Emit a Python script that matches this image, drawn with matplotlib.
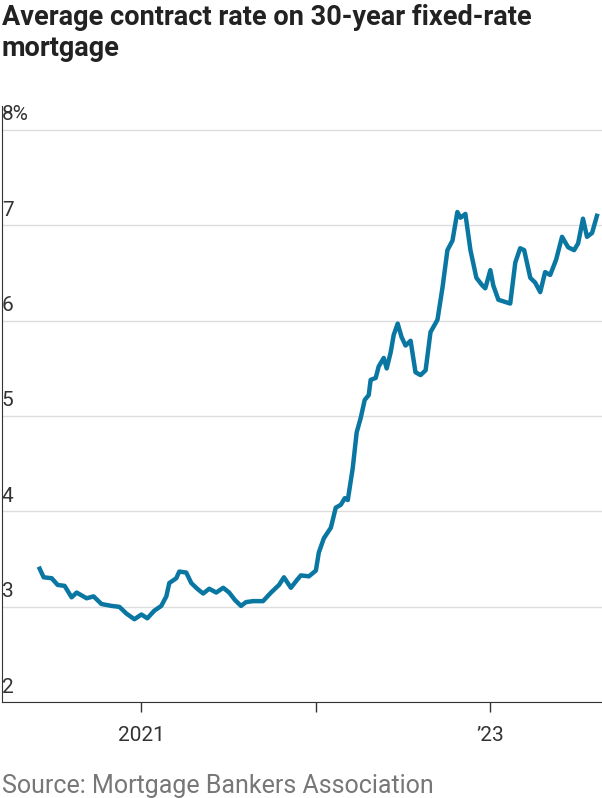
import matplotlib
matplotlib.use("Agg")
import matplotlib.pyplot as plt

years = [2020.417,2020.440,2020.486,2020.520,2020.560,2020.600,2020.629,2020.686,2020.726,2020.771,2020.829,2020.874,2020.914,2020.960,
 2021.000,2021.034,2021.074,2021.114,2021.143,2021.160,2021.200,2021.217,2021.257,2021.286,2021.320,2021.354,2021.389,2021.429,2021.469,
 2021.503,2021.537,2021.571,2021.600,2021.640,2021.697,2021.743,2021.789,2021.817,2021.857,2021.891,2021.914,2021.960,
 2022.000,2022.017,2022.046,2022.086,2022.114,2022.143,2022.166,2022.183,2022.211,2022.234,2022.257,2022.280,2022.303,2022.314,
 2022.343,2022.360,2022.389,2022.406,2022.429,2022.446,2022.469,2022.491,2022.514,2022.543,2022.571,2022.600,2022.629,2022.657,
 2022.697,2022.726,2022.754,2022.783,2022.811,2022.829,2022.857,2022.886,2022.920,2022.954,2022.971,
 2023.000,2023.017,2023.046,2023.114,2023.143,2023.171,2023.194,2023.229,2023.257,2023.286,2023.314,2023.343,2023.377,2023.411,
 2023.446,2023.480,2023.503,2023.531,2023.554,2023.583,2023.611]
rates = [3.40,3.31,3.30,3.23,3.22,3.10,3.15,3.09,3.11,3.03,3.01,3.00,2.93,2.87,
 2.92,2.88,2.96,3.01,3.11,3.25,3.30,3.37,3.36,3.25,3.19,3.14,3.19,3.15,3.20,
 3.15,3.07,3.01,3.05,3.06,3.06,3.15,3.23,3.31,3.20,3.28,3.33,3.32,
 3.38,3.57,3.72,3.83,4.04,4.07,4.14,4.12,4.45,4.83,4.98,5.17,5.22,5.38,
 5.40,5.52,5.61,5.50,5.67,5.85,5.97,5.83,5.74,5.79,5.46,5.43,5.48,5.88,
 6.01,6.35,6.74,6.84,7.14,7.08,7.12,6.74,6.45,6.37,6.34,
 6.53,6.37,6.22,6.18,6.61,6.76,6.74,6.45,6.40,6.30,6.51,6.48,6.64,6.88,
 6.77,6.74,6.81,7.07,6.88,6.92,7.10]
yticks = [2,3,4,5,6,7,8]
ytick_labels = ["2","3","4","5","6","7","8%"]
xticks = [2021,2022,2023]
xtick_labels = ["2021","","\u201923"]

fig = plt.figure(figsize=(6.02,7.98), dpi=100)
ax = fig.add_axes([0.003,0.120,0.997,0.747])
ax.plot(years, rates, color="#0a77a3", lw=3.2, solid_joinstyle="round")
ax.set_xlim(2020.2, 2020.2+602/175)
ax.set_ylim(2, 8.25)
ax.set_yticks(yticks)
ax.set_yticklabels([])
for v,l in zip(yticks, ytick_labels):
    ax.text(0.0, v+0.06, l, transform=ax.get_yaxis_transform(), ha="left", va="bottom",
            fontsize=15, color="#333333", family="Roboto")
ax.grid(axis="y", color="#dddddd", lw=1)
ax.tick_params(axis="y", length=0)
ax.set_xticks(xticks)
ax.set_xticklabels(xtick_labels, fontsize=15, color="#333333", family="Roboto")
ax.tick_params(axis="x", length=7, width=1, color="#333333", pad=10)
for s in ["top","right"]:
    ax.spines[s].set_visible(False)
ax.spines["left"].set_color("#333333")
ax.spines["bottom"].set_color("#333333")
ax.set_axisbelow(True)

fig.text(0.003, 0.995, "Average contract rate on 30-year fixed-rate\nmortgage", ha="left", va="top",
         fontsize=19.5, fontweight="bold", family="Roboto", color="#222222", linespacing=1.2)
fig.text(0.003, 0.0, "Source: Mortgage Bankers Association", ha="left", va="bottom",
         fontsize=18, family="Roboto", color="#777777")
fig.savefig("out.png", dpi=100)
